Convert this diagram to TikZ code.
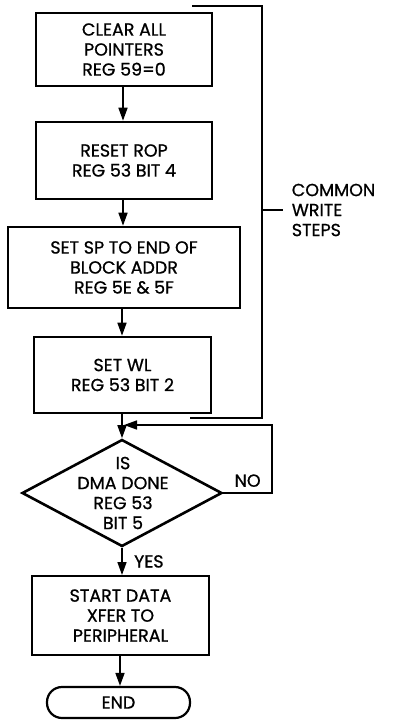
\documentclass[tikz,border=0pt]{standalone}
\usepackage{fontspec}
\setmainfont{Poppins}[FakeBold=0.8]
\usetikzlibrary{shapes.geometric,arrows.meta}

\begin{document}
\begin{tikzpicture}[x=1pt,y=-1pt,
  font=\fontsize{17.5}{20}\selectfont,
  box/.style={draw,line width=2.6pt,align=center,inner sep=0pt},
  decision/.style={draw,diamond,line width=2.6pt,inner sep=0pt,aspect=1.87},
  term/.style={draw,line width=2.2pt,rounded corners=15pt,inner sep=0pt},
  arr/.style={line width=1.6pt,-{Triangle[length=13pt,width=9pt]}},
  brk/.style={line width=1.6pt}]
\useasboundingbox (0,0) rectangle (393,720);

\node[box,minimum width=176pt,minimum height=73pt] (clr) at (124,49.5) {CLEAR ALL\\POINTERS\\REG 59=0};
\node[box,minimum width=176pt,minimum height=77pt] (rop) at (124,160.5) {RESET ROP\\REG 53 BIT 4};
\node[box,minimum width=232pt,minimum height=81pt] (sp) at (124,267.5) {SET SP TO END OF\\BLOCK ADDR\\REG 5E \& 5F};
\node[box,minimum width=177pt,minimum height=76pt] (wl) at (122.5,375) {SET WL\\REG 53 BIT 2};
\node[decision,minimum width=200pt,minimum height=107pt] (dma) at (122,493) {};
\node[align=center,inner sep=0pt] (dmatext) at (123,493) {IS\\DMA DONE\\REG 53\\BIT 5};
\node[box,line width=2pt,minimum width=177pt,minimum height=79pt] (xfer) at (120.5,615.5) {START DATA\\XFER TO\\PERIPHERAL};
\node[term,minimum width=143pt,minimum height=31pt] (end) at (118.5,702.5) {END};

\draw[arr] (clr.south -| 123,0) -- (rop.north -| 123,0);
\draw[arr] (rop.south -| 123,0) -- (sp.north -| 123,0);
\draw[arr] (sp.south -| 122,0) -- (wl.north -| 122,0);
\draw[arr] (wl.south -| 122,0) -- (dma.north);
\draw[arr] (dma.south) -- node[right=8pt] (yes) {YES} (xfer.north -| 122,0);
\draw[arr] (xfer.south -| 120,0) -- (end.north -| 120,0);

% NO loop back
\coordinate (merge) at (124,425);
\draw[arr] (dma.east) -- node[above=2pt] (no) {NO} (272,493) |- (merge);

% bracket
\coordinate (btop) at (192,6);
\coordinate (bbot) at (190,418);
\draw[brk] (btop) -- (262,6) -- (262,418) -- (bbot);
\draw[brk] (262,210) -- (283,210) node[right=8pt,align=left,inner sep=0pt] (cws) {COMMON\\WRITE\\STEPS};
\end{tikzpicture}
\end{document}
